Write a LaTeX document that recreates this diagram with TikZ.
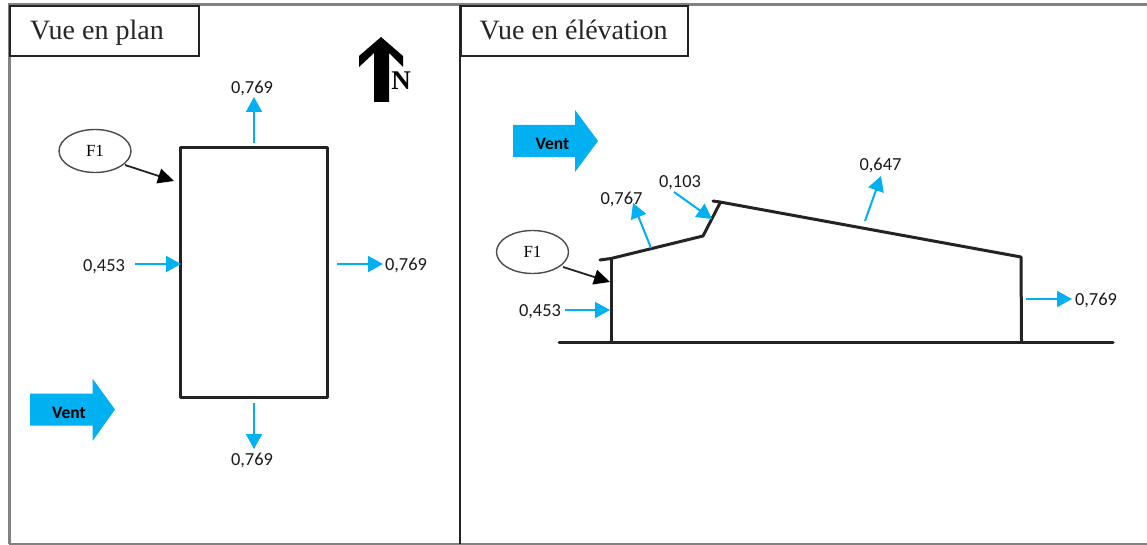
\documentclass[tikz,border=0pt]{standalone}
\usepackage{fontspec}
\setmainfont{Liberation Serif}
\newfontfamily\calib{Carlito}
\usetikzlibrary{arrows.meta,shapes.geometric}
\definecolor{ventblue}{RGB}{0,176,240}
\definecolor{framegray}{RGB}{130,130,130}
\definecolor{inkdark}{RGB}{35,35,35}
\tikzset{
  x=1pt,y=-1pt,
  val/.style={font=\calib\fontsize{18.4}{20}\selectfont,inner sep=0pt,text=black!90},
  title/.style={font=\fontsize{28}{30}\selectfont,inner sep=0pt,text=black!85},
  titlebox/.style={draw=inkdark,line width=1.9pt,fill=white},
  wall/.style={draw=inkdark,line width=3pt,line cap=round,line join=round},
  force/.style={draw=ventblue,line width=2pt,-{Triangle[length=15pt,width=16pt]}},
  callout/.style={draw=inkdark,line width=1.8pt,-{Triangle[length=16pt,width=15pt,fill=black,color=black]}},
  ell/.style={draw=black!70,line width=1.4pt,ellipse,minimum width=72pt,minimum height=43pt,inner sep=0pt,font=\fontsize{17}{18}\selectfont},
  ventarrow/.style={fill=ventblue,draw=none},
  ventlabel/.style={font=\calib\bfseries\fontsize{17.5}{18}\selectfont,inner sep=0pt}
}
\begin{document}
\begin{tikzpicture}
\useasboundingbox (0,0) rectangle (1147,545);
% frame
\draw[framegray,line width=3pt] (9,544) -- (9,4.5) -- (1147,4.5);
\draw[framegray,line width=2pt] (9,544) -- (1147,544);
\draw[inkdark,line width=2.6pt] (460,5) -- (460,544);
% title boxes
\node[titlebox,minimum width=189pt,minimum height=50pt,anchor=north west,inner sep=0pt] (tplan) at (9,5) {};
\node[title,anchor=base west] (tplant) at (30,40) {Vue en plan};
\node[titlebox,minimum width=227pt,minimum height=50pt,anchor=north west,inner sep=0pt] (telev) at (460,5) {};
\node[title,anchor=base west] (televt) at (479.5,40) {Vue en élévation};
% north
\fill[black] (381,37) -- (403,56) -- (403,67) -- (389,53) -- (389,102) -- (374,102) -- (374,53) -- (359,67) -- (359,56) -- cycle;
\node[font=\bfseries\fontsize{27}{28}\selectfont,inner sep=0pt,anchor=base] (north) at (401,90) {N};
% plan
\node[wall,minimum width=147pt,minimum height=249pt,anchor=north west,inner sep=0pt] (bld) at (179,146.5) {};
\coordinate (t0) at (254,143); \coordinate (t1) at (254,97);
\draw[force] (t0) -- (t1);
\node[val] (vt) at (252,88.5) {0,769};
\coordinate (b0) at (254,403); \coordinate (b1) at (254,449);
\draw[force] (b0) -- (b1);
\node[val] (vb) at (252,460.5) {0,769};
\coordinate (l0) at (135,264); \coordinate (l1) at (181,264);
\draw[force] (l0) -- (l1);
\node[val] (vl) at (104,266.5) {0,453};
\coordinate (r0) at (337,264); \coordinate (r1) at (383,264);
\draw[force] (r0) -- (r1);
\node[val] (vr) at (406,265.5) {0,769};
\node[ell] (f1a) at (95,151) {F1};
\coordinate (f1ae) at (174,181);
\draw[callout] (125,165) -- (f1ae);
\fill[ventarrow] (30,393.5) -- (92.5,393.5) -- (92.5,378.5) -- (115,409.5) -- (92.5,441) -- (92.5,425.5) -- (30,425.5) -- cycle;
\node[ventlabel] (ventA) at (69,413) {Vent};
% elevation
\draw[wall] (1113,342) -- (559,342);
\draw[wall] (611,342) -- (611,259);
\draw[wall] (600,260) -- (611,258.5) -- (703,236) -- (720,203);
\draw[wall] (713,201) -- (720,202) -- (1021,257) -- (1021.5,342);
\fill[ventarrow] (513,125) -- (575,125) -- (575,110) -- (598,141) -- (575,172) -- (575,157) -- (513,157) -- cycle;
\node[ventlabel] (ventB) at (552.5,143.5) {Vent};
\node[ell] (f1b) at (532.5,252) {F1};
\coordinate (f1be) at (610,282);
\draw[callout] (563,267) -- (f1be);
\coordinate (w0) at (565,310); \coordinate (w1) at (610,310);
\draw[force] (w0) -- (w1);
\node[val] (vw) at (540,312) {0,453};
\coordinate (s0) at (651,248); \coordinate (s1) at (633,203);
\draw[force] (s0) -- (s1);
\node[val] (vs) at (621.5,199) {0,767};
\coordinate (h0) at (674,192); \coordinate (h1) at (712,219);
\draw[force] (h0) -- (h1);
\node[val] (vh) at (680,182.5) {0,103};
\coordinate (p0) at (865,221); \coordinate (p1) at (881,176);
\draw[force] (p0) -- (p1);
\node[val] (vp) at (880.5,165) {0,647};
\coordinate (e0) at (1026,299); \coordinate (e1) at (1072,299);
\draw[force] (e0) -- (e1);
\node[val] (ve) at (1096,300.5) {0,769};
\end{tikzpicture}
\end{document}
